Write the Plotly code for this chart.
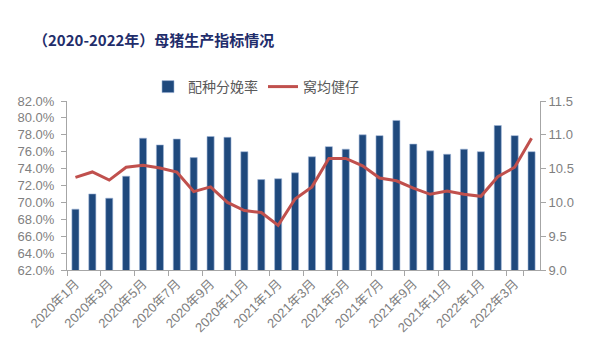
import plotly.graph_objects as go

months = [
    "2020年1月", "2020年2月", "2020年3月", "2020年4月", "2020年5月", "2020年6月",
    "2020年7月", "2020年8月", "2020年9月", "2020年10月", "2020年11月", "2020年12月",
    "2021年1月", "2021年2月", "2021年3月", "2021年4月", "2021年5月", "2021年6月",
    "2021年7月", "2021年8月", "2021年9月", "2021年10月", "2021年11月", "2021年12月",
    "2022年1月", "2022年2月", "2022年3月", "2022年4月",
]
breeding_rate = [
    69.2, 71.0, 70.5, 73.1, 77.6, 76.8, 77.5, 75.3, 77.8, 77.7, 76.0, 72.7,
    72.8, 73.5, 75.4, 76.6, 76.3, 78.0, 77.9, 79.7, 76.9, 76.1, 75.7, 76.3,
    76.0, 79.1, 77.9, 76.0,
]
piglets = [
    10.37, 10.45, 10.33, 10.52, 10.55, 10.51, 10.45, 10.16, 10.23, 10.00, 9.88, 9.85,
    9.66, 10.05, 10.23, 10.65, 10.65, 10.54, 10.36, 10.32, 10.21, 10.12, 10.17, 10.12,
    10.09, 10.38, 10.52, 10.95,
]
left_ticks = [62, 64, 66, 68, 70, 72, 74, 76, 78, 80, 82]
right_ticks = [9.0, 9.5, 10.0, 10.5, 11.0, 11.5]

GRAY = "#7f7f7f"
AXIS = "#a6a6a6"
FONT = "Noto Sans CJK SC"
NUMFONT = "Liberation Sans, Noto Sans CJK SC"

fig = go.Figure()
fig.add_trace(go.Bar(
    x=months, y=breeding_rate, name="配种分娩率",
    marker=dict(color="#1F497D", line=dict(color="#9fb6d6", width=0.6)),
    yaxis="y",
))
fig.add_trace(go.Scatter(
    x=months, y=piglets, name="窝均健仔", mode="lines",
    line=dict(color="#C0504D", width=3), yaxis="y2",
))

fig.update_layout(
    width=600, height=360,
    margin=dict(l=67, r=60, t=101, b=90, autoexpand=False),
    paper_bgcolor="white", plot_bgcolor="white",
    font=dict(family=FONT, color=GRAY, size=12),
    bargap=0.58,
    title=dict(
        text="<b>（2020-2022年）母猪生产指标情况</b>",
        x=33 / 600, xanchor="left", y=1 - 41 / 360, yanchor="middle",
        font=dict(family=FONT, size=15, color="#1f2d6b"),
    ),
    showlegend=True,
    legend=dict(
        orientation="h", x=(148 - 67) / 473, xanchor="left",
        y=1 + 14 / 169, yanchor="middle",
        font=dict(size=14, color="#595959"),
        itemwidth=30, bgcolor="rgba(0,0,0,0)",
    ),
    xaxis=dict(
        type="category",
        tickmode="array", tickvals=months[::2], ticktext=months[::2],
        tickson="boundaries",
        tickangle=-45,
        ticks="outside", ticklen=5, tickcolor=AXIS,
        showline=True, linecolor=AXIS, linewidth=1,
        showgrid=False,
        tickfont=dict(family=NUMFONT, size=13, color=GRAY),
    ),
    yaxis=dict(
        range=[62, 82], tickmode="array", tickvals=left_ticks,
        ticktext=[f"{v:.1f}%" for v in left_ticks],
        showline=True, linecolor=AXIS, linewidth=1,
        ticks="outside", ticklen=5, tickcolor=AXIS,
        ticklabelstandoff=4,
        showgrid=False, zeroline=False,
        tickfont=dict(family=NUMFONT, size=13, color=GRAY),
    ),
    yaxis2=dict(
        range=[9.0, 11.5], overlaying="y", side="right",
        tickmode="array", tickvals=right_ticks,
        ticktext=[f"{v:.1f}" for v in right_ticks],
        showline=True, linecolor=AXIS, linewidth=1,
        ticks="outside", ticklen=5, tickcolor=AXIS,
        showgrid=False, zeroline=False,
        tickfont=dict(family=NUMFONT, size=13, color=GRAY),
    ),
)

fig.write_html(
    "out.html",
    config={"displayModeBar": False},
    post_script="document.body.style.margin='0';",
)
